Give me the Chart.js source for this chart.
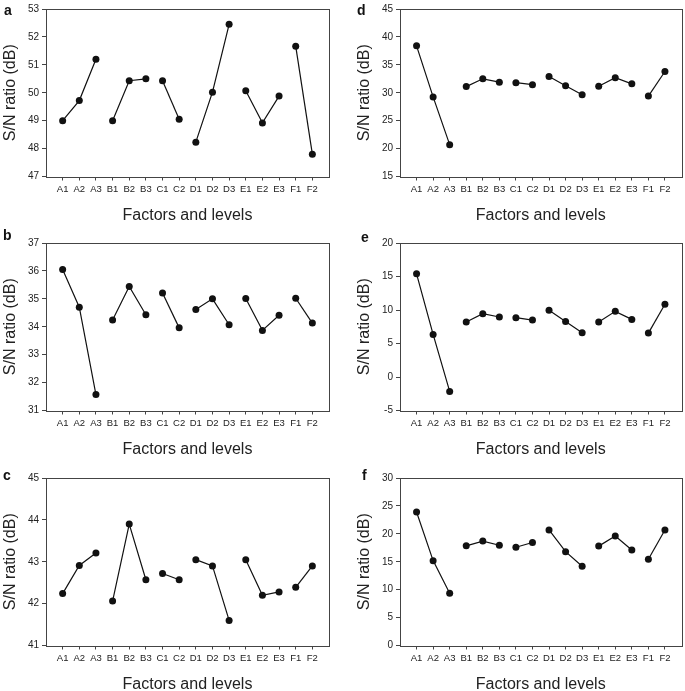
<!DOCTYPE html>
<html><head><meta charset="utf-8">
<script src="https://cdn.jsdelivr.net/npm/chart.js@4.4.1/dist/chart.umd.min.js"></script>
<style>
html,body{margin:0;padding:0;background:#fff;overflow:hidden;width:685px;height:691px;position:relative;}
canvas{position:absolute;}
.lab{position:absolute;font:bold 14px "Liberation Sans",Arial,sans-serif;line-height:14px;color:#111;}
</style></head><body>
<script>
// ---- data ----
const categories = ['A1','A2','A3','B1','B2','B3','C1','C2','D1','D2','D3','E1','E2','E3','F1','F2'];
const yTitle = 'S/N ratio (dB)';
const xTitle = 'Factors and levels';
const panelA = [49.0, 49.72, 51.2, 49.0, 50.43, 50.5, 50.43, 49.05, 48.23, 50.02, 52.45, 50.07, 48.92, 49.88, 51.67, 47.8];
const panelB = [36.05, 34.7, 31.57, 34.24, 35.44, 34.43, 35.21, 33.96, 34.62, 35.0, 34.07, 35.01, 33.87, 34.41, 35.02, 34.13];
const panelC = [42.24, 42.91, 43.21, 42.06, 43.9, 42.57, 42.72, 42.57, 43.05, 42.9, 41.6, 43.05, 42.2, 42.28, 42.39, 42.9];
const panelD = [38.4, 29.25, 20.7, 31.1, 32.5, 31.9, 31.8, 31.45, 32.9, 31.25, 29.65, 31.15, 32.7, 31.6, 29.4, 33.8];
const panelE = [15.4, 6.35, -2.15, 8.2, 9.45, 8.95, 8.85, 8.5, 9.95, 8.3, 6.6, 8.2, 9.8, 8.6, 6.55, 10.85];
const panelF = [23.9, 15.2, 9.35, 17.85, 18.7, 17.95, 17.6, 18.45, 20.7, 16.8, 14.2, 17.8, 19.6, 17.1, 15.45, 20.7];
const yRanges = { a:[47,53,1], b:[31,37,1], c:[41,45,1], d:[15,45,5], e:[-5,20,5], f:[0,30,5] };

// ---- layout ----
const FAMILY = '"Liberation Sans", Arial, sans-serif';
const panels = [
  {id:'a', values:panelA, x:0,   y:0,   w:340, h:226, padL:0,  padR:11, lab:[4,3]},
  {id:'b', values:panelB, x:0,   y:234, w:340, h:226, padL:0,  padR:11, lab:[3,228]},
  {id:'c', values:panelC, x:0,   y:469, w:340, h:226, padL:0,  padR:11, lab:[3,468]},
  {id:'d', values:panelD, x:340, y:0,   w:345, h:226, padL:14, padR:3,  lab:[357,3]},
  {id:'e', values:panelE, x:340, y:234, w:345, h:226, padL:14, padR:3,  lab:[361,230]},
  {id:'f', values:panelF, x:340, y:469, w:345, h:226, padL:14, padR:3,  lab:[362,468]}
];

const framePlugin = {
  id:'frame',
  beforeDatasetsDraw(chart){
    const {ctx, chartArea:{left,top,right,bottom}} = chart;
    ctx.save();
    ctx.strokeStyle = '#444';
    ctx.lineWidth = 1;
    ctx.strokeRect(Math.round(left)+0.5, Math.round(top)+0.5, Math.round(right-left), Math.round(bottom-top));
    ctx.restore();
  }
};

// group consecutive levels of the same factor
function groupsOf(cats){
  const out = [];
  cats.forEach((c,i)=>{
    const f = c.charAt(0);
    if(!out.length || out[out.length-1].f !== f) out.push({f, idx:[]});
    out[out.length-1].idx.push(i);
  });
  return out;
}
const groups = groupsOf(categories);

panels.forEach(p=>{
  const cv = document.createElement('canvas');
  cv.width = p.w; cv.height = p.h;
  cv.style.left = p.x+'px'; cv.style.top = p.y+'px';
  cv.style.width = p.w+'px'; cv.style.height = p.h+'px';
  document.body.appendChild(cv);
  const lab = document.createElement('div');
  lab.className = 'lab';
  lab.textContent = p.id;
  lab.style.left = p.lab[0]+'px'; lab.style.top = p.lab[1]+'px';
  document.body.appendChild(lab);

  const [ymin,ymax,ystep] = yRanges[p.id];
  new Chart(cv, {
    type:'line',
    data:{
      datasets: groups.map(g=>({
        label:g.f,
        data:g.idx.map(i=>({x:i+1, y:p.values[i]})),
        borderColor:'#111', backgroundColor:'#111',
        borderWidth:1.2, pointRadius:3.5, pointHoverRadius:3.5,
        pointBorderWidth:0, tension:0, fill:false
      }))
    },
    options:{
      responsive:false, animation:false, events:[], devicePixelRatio:1,
      layout:{padding:{left:p.padL, top:7, right:p.padR, bottom:0}},
      plugins:{legend:{display:false}, tooltip:{enabled:false}},
      scales:{
        x:{
          type:'linear', min:0, max:17,
          afterBuildTicks:s=>{ s.ticks = categories.map((c,i)=>({value:i+1})); },
          ticks:{callback:(v)=>categories[v-1]||'', autoSkip:false, maxRotation:0, minRotation:0,
                 font:{size:9.5, family:FAMILY}, color:'#222', padding:3},
          grid:{drawOnChartArea:false, drawTicks:true, tickLength:4, color:'#444'},
          border:{display:false},
          title:{display:true, text:xTitle, font:{size:16, family:FAMILY}, color:'#222', padding:{top:0,bottom:1}},
          afterFit:s=>{ s.height = 49.5; }
        },
        y:{
          min:ymin, max:ymax,
          ticks:{stepSize:ystep, font:{size:10, family:FAMILY}, color:'#222', padding:3},
          grid:{drawOnChartArea:false, drawTicks:true, tickLength:4, color:'#444'},
          border:{display:false},
          title:{display:true, text:yTitle, font:{size:16, family:FAMILY}, color:'#222', padding:{top:0.5,bottom:0}},
          afterFit:s=>{ s.width = 46; }
        }
      }
    },
    plugins:[framePlugin]
  });
});
</script>
</body></html>
